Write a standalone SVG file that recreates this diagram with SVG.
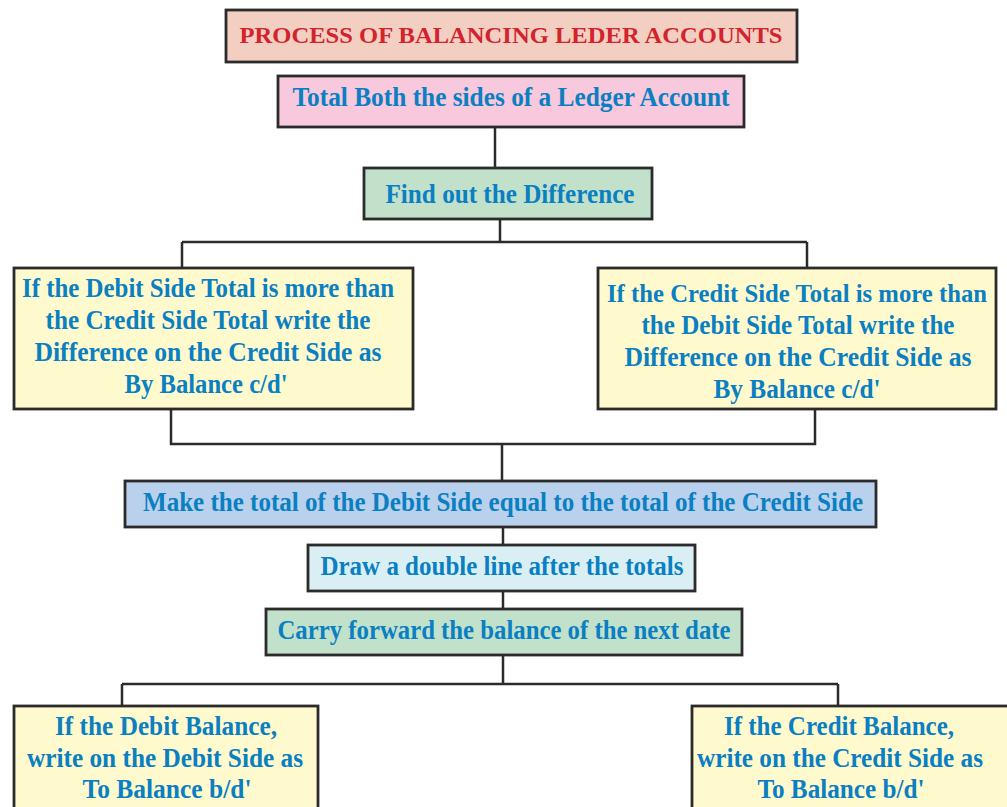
<svg xmlns="http://www.w3.org/2000/svg" width="1007" height="807" viewBox="0 0 1007 807">
<defs>
<style>
.box{stroke:#2b2b2b;stroke-width:2.8}
.t{font-family:"Liberation Serif","Times New Roman",serif;font-weight:bold;font-size:27px;fill:#0a7fc2;text-anchor:middle}
.title{font-family:"Liberation Serif","Times New Roman",serif;font-weight:bold;font-size:23.5px;fill:#d3232f;text-anchor:middle}
.conn{fill:none;stroke:#2b2b2b;stroke-width:2.5}
</style>
</defs>
<rect width="1007" height="807" fill="#ffffff"/>
<g id="connectors">
<path class="conn" d="M495 128V168"/>
<path class="conn" d="M500 220V242M182 242H807M182 242V268M807 242V268"/>
<path class="conn" d="M171 409V444H815V409M502 444V481"/>
<path class="conn" d="M503 528V545"/>
<path class="conn" d="M503 591V609"/>
<path class="conn" d="M503 655V684M122 684H838M122 684V706M838 684V706"/>
</g>
<g id="title">
<rect class="box" x="226" y="10" width="571" height="52" fill="#f2cfc0"/>
<text class="title" x="511" y="43" textLength="543" lengthAdjust="spacingAndGlyphs">PROCESS OF BALANCING LEDER ACCOUNTS</text>
</g>
<g id="total-both">
<rect class="box" x="278" y="76" width="466" height="51" fill="#f8c8dc"/>
<text class="t" x="511" y="106" textLength="437" lengthAdjust="spacingAndGlyphs">Total Both the sides of a Ledger Account</text>
</g>
<g id="find-difference">
<rect class="box" x="364" y="168" width="288" height="51" fill="#c1e1cb"/>
<text class="t" x="510" y="203" textLength="249" lengthAdjust="spacingAndGlyphs">Find out the Difference</text>
</g>
<g id="debit-more">
<rect class="box" x="14" y="268" width="399" height="141" fill="#fffacd"/>
<text class="t" x="208" y="297" textLength="372" lengthAdjust="spacingAndGlyphs">If the Debit Side Total is more than</text>
<text class="t" x="208" y="329" textLength="325" lengthAdjust="spacingAndGlyphs">the Credit Side Total write the</text>
<text class="t" x="208" y="361" textLength="347" lengthAdjust="spacingAndGlyphs">Difference on the Credit Side as</text>
<text class="t" x="206" y="393" textLength="163" lengthAdjust="spacingAndGlyphs">By Balance c/d'</text>
</g>
<g id="credit-more">
<rect class="box" x="598" y="268" width="398" height="141" fill="#fffacd"/>
<text class="t" x="797" y="302" style="font-size:25.5px" textLength="380" lengthAdjust="spacingAndGlyphs">If the Credit Side Total is more than</text>
<text class="t" x="798" y="334" textLength="313" lengthAdjust="spacingAndGlyphs">the Debit Side Total write the</text>
<text class="t" x="798" y="366" textLength="347" lengthAdjust="spacingAndGlyphs">Difference on the Credit Side as</text>
<text class="t" x="797" y="398" textLength="167" lengthAdjust="spacingAndGlyphs">By Balance c/d'</text>
</g>
<g id="make-total">
<rect class="box" x="125" y="481" width="751" height="46" fill="#b9d1ec"/>
<text class="t" x="503" y="511" textLength="720" lengthAdjust="spacingAndGlyphs">Make the total of the Debit Side equal to the total of the Credit Side</text>
</g>
<g id="double-line">
<rect class="box" x="308" y="545" width="387" height="46" fill="#d9eff3"/>
<text class="t" x="502" y="575" textLength="363" lengthAdjust="spacingAndGlyphs">Draw a double line after the totals</text>
</g>
<g id="carry-forward">
<rect class="box" x="266" y="609" width="476" height="46" fill="#c1e1cb"/>
<text class="t" x="504" y="639" textLength="453" lengthAdjust="spacingAndGlyphs">Carry forward the balance of the next date</text>
</g>
<g id="debit-balance">
<rect class="box" x="14" y="706" width="304" height="110" fill="#fffacd"/>
<text class="t" x="166" y="735" textLength="222" lengthAdjust="spacingAndGlyphs">If the Debit Balance,</text>
<text class="t" x="165" y="767" textLength="276" lengthAdjust="spacingAndGlyphs">write on the Debit Side as</text>
<text class="t" x="167" y="798" textLength="169" lengthAdjust="spacingAndGlyphs">To Balance b/d'</text>
</g>
<g id="credit-balance">
<rect class="box" x="692" y="706" width="330" height="110" fill="#fffacd"/>
<text class="t" x="839" y="735" textLength="230" lengthAdjust="spacingAndGlyphs">If the Credit Balance,</text>
<text class="t" x="840" y="767" textLength="286" lengthAdjust="spacingAndGlyphs">write on the Credit Side as</text>
<text class="t" x="841" y="798" textLength="167" lengthAdjust="spacingAndGlyphs">To Balance b/d'</text>
</g>
</svg>
